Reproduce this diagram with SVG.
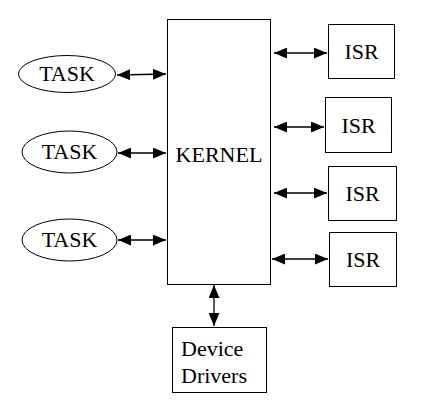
<svg xmlns="http://www.w3.org/2000/svg" width="441" height="415" viewBox="0 0 441 415">
<style>
.s{fill:#fff;stroke:#000;stroke-width:1}
.t{font-family:'Liberation Serif','Times New Roman','DejaVu Serif',serif;font-size:22px;fill:#000}
.c{stroke:#000;stroke-width:1.3;fill:none;marker-start:url(#a);marker-end:url(#a)}
</style>
<defs>
<marker id="a" viewBox="0 0 12 10" refX="12" refY="5" markerWidth="13" markerHeight="11" markerUnits="userSpaceOnUse" orient="auto-start-reverse">
<path d="M0,0L12,5L0,10z" fill="#000"/>
</marker>
</defs>
<rect width="441" height="415" fill="#fff"/>
<g id="kernel"><rect class="s" x="167.5" y="19.5" width="103" height="265"/><text class="t" x="219" y="162" text-anchor="middle">KERNEL</text></g>
<g id="task1"><ellipse class="s" cx="67" cy="74" rx="48.5" ry="18.5"/><text class="t" x="67" y="81" text-anchor="middle">TASK</text></g>
<g id="task2"><ellipse class="s" cx="69.5" cy="152" rx="47.5" ry="21"/><text class="t" x="69.5" y="159" text-anchor="middle">TASK</text></g>
<g id="task3"><ellipse class="s" cx="69.5" cy="240" rx="47.5" ry="21"/><text class="t" x="69.5" y="247" text-anchor="middle">TASK</text></g>
<g id="isr1"><rect class="s" x="328.5" y="24.5" width="66" height="54"/><text class="t" x="361.5" y="59" text-anchor="middle">ISR</text></g>
<g id="isr2"><rect class="s" x="325.5" y="97.5" width="66" height="55"/><text class="t" x="358.5" y="133" text-anchor="middle">ISR</text></g>
<g id="isr3"><rect class="s" x="328.5" y="166.5" width="68" height="54"/><text class="t" x="362.5" y="201" text-anchor="middle">ISR</text></g>
<g id="isr4"><rect class="s" x="329.5" y="232.5" width="67" height="54"/><text class="t" x="363" y="267" text-anchor="middle">ISR</text></g>
<g id="drivers"><rect class="s" x="172.5" y="327.5" width="94" height="65"/><text class="t" x="181" y="356">Device</text><text class="t" x="181" y="383">Drivers</text></g>
<g id="connectors">
<line class="c" x1="117" y1="75" x2="166" y2="74"/>
<line class="c" x1="118" y1="153" x2="166" y2="153"/>
<line class="c" x1="118" y1="240" x2="166" y2="240"/>
<line class="c" x1="274" y1="53" x2="327" y2="53"/>
<line class="c" x1="274" y1="127" x2="324" y2="127"/>
<line class="c" x1="274" y1="193" x2="327" y2="193"/>
<line class="c" x1="272" y1="259" x2="328" y2="259"/>
<line class="c" x1="214" y1="285" x2="214" y2="326"/>
</g>
</svg>
